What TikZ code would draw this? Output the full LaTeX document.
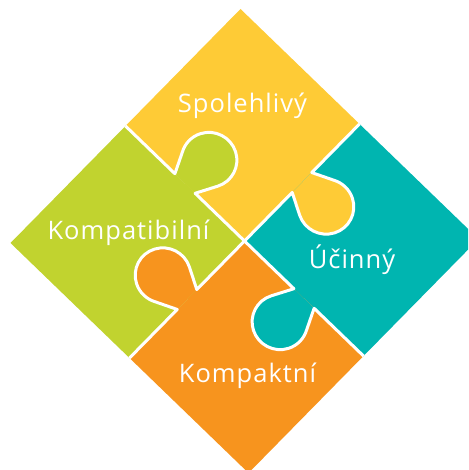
\documentclass[tikz,border=0pt]{standalone}
\usepackage{fontspec}
\setmainfont{Open Sans}[LetterSpace=4]

\definecolor{pzYellow}{RGB}{254,203,54}
\definecolor{pzGreen}{RGB}{193,211,47}
\definecolor{pzTeal}{RGB}{0,181,176}
\definecolor{pzOrange}{RGB}{247,148,30}

\tikzset{
  gap/.style={draw=white, line width=3pt, line join=round},
  pztext/.style={text=white, inner sep=0pt, anchor=base,
    font=\fontsize{25.5}{26}\selectfont}
}

\begin{document}
\begin{tikzpicture}[x=1pt,y=-1pt]
  \useasboundingbox (0,0) rectangle (468,470);
  \clip (0,0) rectangle (468,470);

  % the four pieces, in a frame along the diamond
  \begin{scope}[shift={(244.5,241)}, x={(115pt,117pt)}, y={(-119pt,115pt)}]
    \fill[pzYellow] (0,0) -- (1,0) -- (1,1) -- (0,1) -- cycle;
    \fill[pzTeal]   (0,0) -- (1,0) -- (1,-1) -- (0,-1) -- cycle;
    \fill[pzOrange] (0,0) -- (-1,0) -- (-1,-1) -- (0,-1) -- cycle;
    \fill[pzGreen]  (0,0) -- (-1,0) -- (-1,1) -- (0,1) -- cycle;

    % tabs
    \foreach \col [count=\k from 0] in {pzGreen,pzYellow,pzTeal,pzOrange} {
      \pgfmathsetmacro\ang{-90*\k}
      \fill[\col] (90+\ang:0.415) -- (70+\ang:0.37)
        arc[start angle=-118+\ang, end angle=118+\ang, radius=0.168]
        -- (90+\ang:0.585) -- cycle;
    }
    % white cuts
    \foreach \k in {0,...,3} {
      \pgfmathsetmacro\ang{-90*\k}
      \draw[gap] (0,0) -- (90+\ang:0.415) -- (70+\ang:0.37)
        arc[start angle=-118+\ang, end angle=118+\ang, radius=0.168]
        -- (90+\ang:0.585) -- (90+\ang:1);
    }
  \end{scope}

  \node[pztext] (spol) at (242.5,113) {Spolehlivý};
  \node[pztext] (komp) at (128.5,239) {Kompatibilní};
  \node[pztext] (ucin) at (352,268) {Účinný};
  \node[pztext] (kmpk) at (247.5,382) {Kompaktní};
\end{tikzpicture}
\end{document}
